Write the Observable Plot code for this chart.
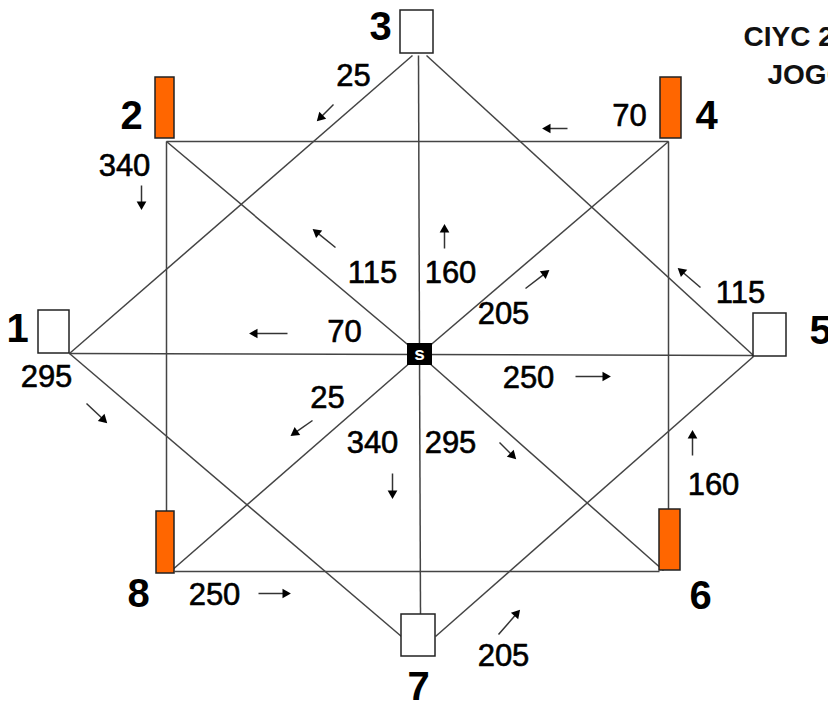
<!DOCTYPE html>
<html>
<head>
<meta charset="utf-8">
<script src="https://cdn.jsdelivr.net/npm/d3@7"></script>
<script src="https://cdn.jsdelivr.net/npm/@observablehq/plot@0.6"></script>
<style>
  html, body { margin: 0; padding: 0; background: #fff; }
</style>
</head>
<body>
<div id="chart"></div>
<script>
// ---- data ----
const nodeIds   = ["1", "2", "3", "4", "5", "6", "7", "8"];
const nodeKinds = ["cone", "flag", "cone", "flag", "cone", "flag", "cone", "flag"];
const centerLabel = "s";
const titleLines = ["CIYC 2008", "JOGGING"];
const flowValues = [25, 70, 340, 115, 160, 205, 70, 115, 250, 295, 25, 340, 295, 160, 250, 205];
const flowDirs   = ["dl", "l", "d", "ul", "u", "ur", "l", "ul", "r", "dr", "dl", "d", "dr", "u", "r", "ur"];

// ---- layout (diagram coordinates) ----
const boxLayout = [ // x1, x2, y1, y2 per node
  [38, 69, 310, 353], [155, 174, 77, 138], [400, 433, 10, 53], [660, 681, 77, 138],
  [753, 786, 313, 356], [659, 680, 509, 570], [401, 435, 614, 656], [156, 174, 511, 573]
];
const nodeLabelPos = [[17, 329], [131, 116], [380, 27], [706, 116], [820, 331], [700, 596], [418, 687], [138, 594]];
const anchorPts = [[69, 353], [166, 141], [418, 55], [668, 141], [753, 355], [663, 570], [420, 614], [170, 571]];
const centerBox = [407, 432, 343, 365];
const centerPt = [419, 354];
const diamondPts = [[[69, 353], [412, 55]], [[426, 55], [753, 355]], [[753, 356], [435, 636]], [[401, 636], [69, 353]]];
const squarePts = [[[166, 141], [668, 141]], [[668, 141], [668, 509]], [[174, 571], [659, 571]], [[166, 141], [166, 511]]];
const flowLabelPos = [[353, 76], [629, 116], [124, 166], [372, 273], [450, 273], [503, 314], [344, 332], [740, 293],
  [528, 378], [46, 377], [327, 398], [372, 443], [450, 443], [713, 485], [214, 595], [503, 656]];
const flowArrowPts = [
  [[333, 104], [318, 119]], [[567, 128], [544, 128]], [[141, 185], [141, 207]], [[335, 247], [314, 230]],
  [[444, 248], [444, 226]], [[525, 288], [547, 271]], [[287, 333], [251, 333]], [[700, 287], [679, 269]],
  [[575, 376], [608, 376]], [[86, 403], [105, 421]], [[312, 420], [292, 434]], [[392, 473], [392, 496]],
  [[499, 442], [514, 457]], [[692, 455], [692, 432]], [[258, 593], [288, 593]], [[498, 634], [518, 611]]
];

// ---- build tables ----
const links = [
  ...squarePts.map(([a, b]) => ({x1: a[0], y1: a[1], x2: b[0], y2: b[1]})),
  ...diamondPts.map(([a, b]) => ({x1: a[0], y1: a[1], x2: b[0], y2: b[1]})),
  ...[0, 4, 2, 6, 1, 3, 5, 7].map(i => ({x1: centerPt[0], y1: centerPt[1], x2: anchorPts[i][0], y2: anchorPts[i][1]}))
];
const nodes = nodeIds.map((id, i) => ({
  id, kind: nodeKinds[i],
  x1: boxLayout[i][0], x2: boxLayout[i][1], y1: boxLayout[i][2], y2: boxLayout[i][3],
  lx: nodeLabelPos[i][0], ly: nodeLabelPos[i][1]
}));
const flows = flowValues.map((v, i) => {
  const [[ax, ay], [bx, by]] = flowArrowPts[i];
  const len = Math.hypot(bx - ax, by - ay);
  const ux = (bx - ax) / len, uy = (by - ay) / len;
  return {
    value: v, dir: flowDirs[i],
    lx: flowLabelPos[i][0], ly: flowLabelPos[i][1],
    ax, ay, sx: bx - ux * 5, sy: by - uy * 5,
    hx: bx - ux * 3.2, hy: by - uy * 3.2,
    rot: Math.atan2(ux, -uy) * 180 / Math.PI
  };
});

const font = "Liberation Sans, Arial, Helvetica, sans-serif";

const chart = Plot.plot({
  width: 828,
  height: 708,
  margin: 0,
  x: {type: "linear", domain: [0, 828], range: [0, 828], axis: null},
  y: {type: "linear", domain: [0, 708], range: [0, 708], axis: null},
  style: {background: "#fff", fontFamily: font},
  marks: [
    Plot.link(links, {x1: "x1", y1: "y1", x2: "x2", y2: "y2", stroke: "#444", strokeWidth: 1.5}),
    Plot.rect(nodes, {x1: "x1", x2: "x2", y1: "y1", y2: "y2",
      fill: d => d.kind === "flag" ? "#ff6600" : "#ffffff", stroke: "#222", strokeWidth: 1.5}),
    Plot.rect([centerBox], {x1: d => d[0], x2: d => d[1], y1: d => d[2], y2: d => d[3], fill: "#000"}),
    Plot.text([centerLabel], {x: centerPt[0], y: centerPt[1], text: d => d, fill: "#fff",
      fontSize: 19, fontWeight: "bold", dy: -1}),
    Plot.text(nodes, {x: "lx", y: "ly", text: "id", fontSize: 40, fontWeight: "bold", fill: "#000"}),
    Plot.text(flows, {x: "lx", y: "ly", text: d => String(d.value), fontSize: 31, fill: "#000",
      stroke: "#000", strokeWidth: 0.6}),
    Plot.link(flows, {x1: "ax", y1: "ay", x2: "sx", y2: "sy", stroke: "#333", strokeWidth: 1.5}),
    Plot.dot(flows, {x: "hx", y: "hy", symbol: "triangle", r: 3.6, rotate: "rot", fill: "#000", stroke: "none"}),
    Plot.text(titleLines, {x: [743, 767], y: [37, 75], text: d => d, textAnchor: "start",
      fontSize: 28, fontWeight: "bold", fill: "#111"})
  ]
});
document.getElementById("chart").appendChild(chart);
</script>
</body>
</html>
